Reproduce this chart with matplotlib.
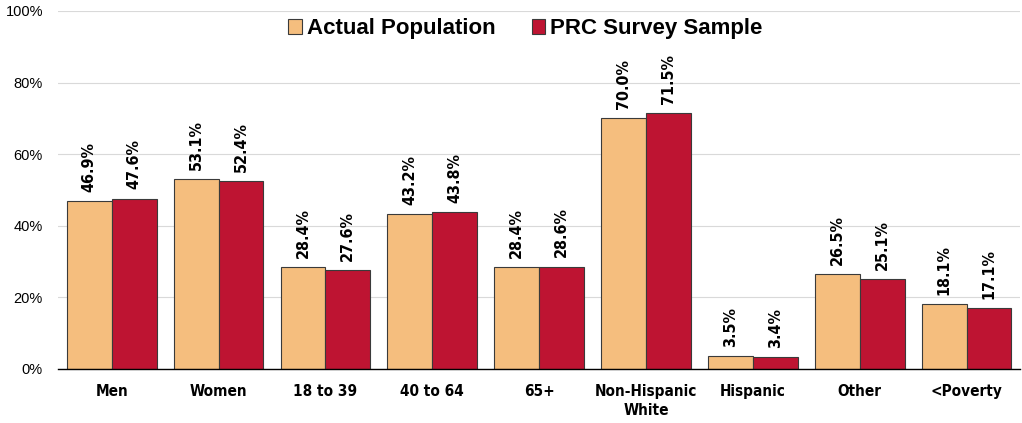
import matplotlib
matplotlib.use("Agg")
import matplotlib.pyplot as plt
from matplotlib import font_manager as fm
import numpy as np

categories = ["Men", "Women", "18 to 39", "40 to 64", "65+", "Non-Hispanic\nWhite", "Hispanic", "Other", "<Poverty"]
actual = [46.9, 53.1, 28.4, 43.2, 28.4, 70.0, 3.5, 26.5, 18.1]
sample = [47.6, 52.4, 27.6, 43.8, 28.6, 71.5, 3.4, 25.1, 17.1]
series_names = ["Actual Population", "PRC Survey Sample"]
yticks = [0, 20, 40, 60, 80, 100]

c_actual = "#F5BE7E"
c_sample = "#BE1432"

names = {f.name for f in fm.fontManager.ttflist}
if "Liberation Sans Narrow" in names:
    narrow = dict(family=["Liberation Sans Narrow", "DejaVu Sans"], weight="bold")
else:
    narrow = dict(family=["DejaVu Sans"], weight="bold", stretch="condensed")

fig = plt.figure(figsize=(10.22, 4.23), dpi=100)
ax = fig.add_axes([0.057, 0.128, 0.941, 0.846])

x = np.arange(len(categories))
w = 0.42
b1 = ax.bar(x - w/2, actual, w, color=c_actual, edgecolor="#3a3a3a", linewidth=0.8, label=series_names[0], zorder=3)
b2 = ax.bar(x + w/2, sample, w, color=c_sample, edgecolor="#3a3a3a", linewidth=0.8, label=series_names[1], zorder=3)

for bars, vals in ((b1, actual), (b2, sample)):
    for r, v in zip(bars, vals):
        ax.annotate(f"{v:.1f}%", (r.get_x() + r.get_width()/2, v), xytext=(0, 6.5),
                    textcoords="offset points", rotation=90, ha="center", va="bottom",
                    fontsize=11.5, **narrow)

ax.set_xlim(-0.5, len(categories) - 0.5)
ax.set_ylim(0, 100)
ax.set_yticks(yticks)
ax.set_yticklabels([f"{t}%" for t in yticks], family=["Liberation Sans", "DejaVu Sans"], fontsize=10.5)
ax.set_xticks(x)
ax.set_xticklabels(categories, fontsize=11, linespacing=1.3, **narrow)
ax.tick_params(axis="x", length=0, pad=11)
ax.tick_params(axis="y", length=0, pad=11)
ax.grid(axis="y", color="#d9d9d9", linewidth=0.8, zorder=0)
for s in ("top", "right", "left"):
    ax.spines[s].set_visible(False)
ax.spines["bottom"].set_color("black")
ax.spines["bottom"].set_linewidth(1.0)
ax.spines["bottom"].set_zorder(4)

leg = ax.legend(loc="upper center", bbox_to_anchor=(0.486, 0.995), ncol=2, frameon=False,
                prop={"family": ["Liberation Sans", "DejaVu Sans"], "weight": "bold", "size": 16},
                handlelength=0.6, handleheight=0.6, handletextpad=0.25, columnspacing=1.6,
                borderaxespad=0.0, borderpad=0.25)

fig.savefig("out.png", dpi=100)
